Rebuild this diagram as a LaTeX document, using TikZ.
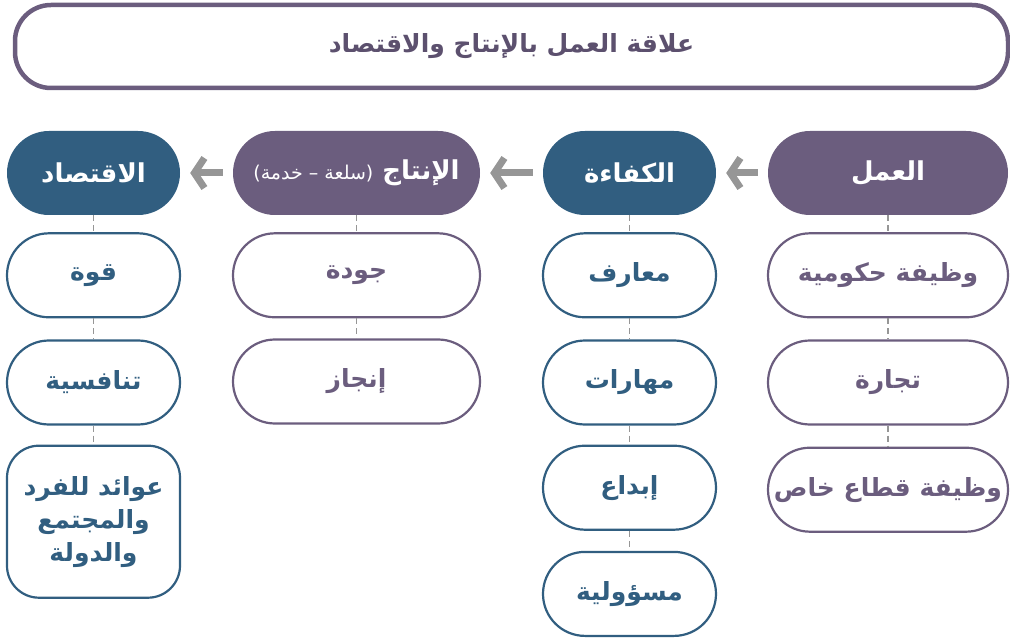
\documentclass[tikz,border=0pt]{standalone}
\usepackage{fontspec}
\newfontfamily\arabicfont[Script=Arabic]{DejaVu Sans}
\TeXXeTstate=1
\usetikzlibrary{positioning,arrows.meta}
\definecolor{plum}{RGB}{107,93,126}
\definecolor{navy}{RGB}{49,94,128}
\definecolor{arrowgray}{RGB}{150,150,150}
\definecolor{titletext}{RGB}{92,80,110}
\newcommand{\rl}[1]{\beginR #1\endR}
\tikzset{
  head/.style={rectangle,rounded corners=42pt,minimum height=84pt,text=white,
    font=\arabicfont\bfseries\fontsize{26}{30}\selectfont},
  item/.style={rectangle,rounded corners=42pt,draw=#1,text=#1,line width=2.2pt,minimum height=84pt,
    font=\arabicfont\bfseries\fontsize{25}{33}\selectfont,align=center},
  link/.style={draw=arrowgray,line width=1.8pt,dash pattern=on 6pt off 4pt},
  flow/.style={draw=arrowgray,line width=7pt,-{Straight Barb[length=10pt,width=30pt]},
    shorten >=10pt,shorten <=10pt}
}
\begin{document}
\begin{tikzpicture}[x=1pt,y=-1pt]
\useasboundingbox (0,0) rectangle (1010,639);
% title
\node[draw=plum,line width=4.5pt,rounded corners=36pt,minimum width=993pt,minimum height=83pt,
  text=titletext,font=\arabicfont\bfseries\fontsize{25}{29}\selectfont] (title) at (511.5,46.5)
  {\rl{علاقة العمل بالإنتاج والاقتصاد}};
% headers
\node[head,fill=plum,minimum width=240pt] (amal) at (888,173) {\rl{العمل}};
\node[head,fill=navy,minimum width=173pt] (kafaa) at (629.5,173) {\rl{الكفاءة}};
\node[head,fill=plum,minimum width=247pt] (intaj) at (356.5,173)
  {\rl{الإنتاج {\fontsize{19}{22}\selectfont\mdseries (سلعة – خدمة)}}};
\node[head,fill=navy,minimum width=173pt] (iqtisad) at (93.5,173) {\rl{الاقتصاد}};
% column 1
\node[item=plum,minimum width=240pt,below=17pt of amal] (hukumiya) {\rl{وظيفة حكومية}};
\node[item=plum,minimum width=240pt,below=21pt of hukumiya] (tijara) {\rl{تجارة}};
\node[item=plum,minimum width=240pt,below=21pt of tijara] (khas) {\rl{وظيفة قطاع خاص}};
% column 2
\node[item=navy,minimum width=173pt,below=17pt of kafaa] (maarif) {\rl{معارف}};
\node[item=navy,minimum width=173pt,below=21pt of maarif] (maharat) {\rl{مهارات}};
\node[item=navy,minimum width=173pt,below=19pt of maharat] (ibdaa) {\rl{إبداع}};
\node[item=navy,minimum width=173pt,below=20pt of ibdaa] (masuliya) {\rl{مسؤولية}};
% column 3
\node[item=plum,minimum width=247pt,below=17pt of intaj] (jawda) {\rl{جودة}};
\node[item=plum,minimum width=247pt,below=20pt of jawda] (injaz) {\rl{إنجاز}};
% column 4
\node[item=navy,minimum width=173pt,below=17pt of iqtisad] (quwwa) {\rl{قوة}};
\node[item=navy,minimum width=173pt,below=21pt of quwwa] (tanafus) {\rl{تنافسية}};
\node[item=navy,minimum width=173pt,minimum height=152pt,rounded corners=32pt,below=19pt of tanafus] (awaid)
  {\rl{عوائد للفرد}\\\rl{والمجتمع}\\\rl{والدولة}};
% arrows
\draw[flow] (amal) -- (kafaa);
\draw[flow] (kafaa) -- (intaj);
\draw[flow] (intaj) -- (iqtisad);
% dashed links
\draw[link] (amal) -- (hukumiya);
\draw[link] (hukumiya) -- (tijara);
\draw[link] (tijara) -- (khas);
\draw[link] (kafaa) -- (maarif);
\draw[link] (maarif) -- (maharat);
\draw[link] (maharat) -- (ibdaa);
\draw[link] (ibdaa) -- (masuliya);
\draw[link] (intaj) -- (jawda);
\draw[link] (jawda) -- (injaz);
\draw[link] (iqtisad) -- (quwwa);
\draw[link] (quwwa) -- (tanafus);
\draw[link] (tanafus) -- (awaid);
\end{tikzpicture}
\end{document}
